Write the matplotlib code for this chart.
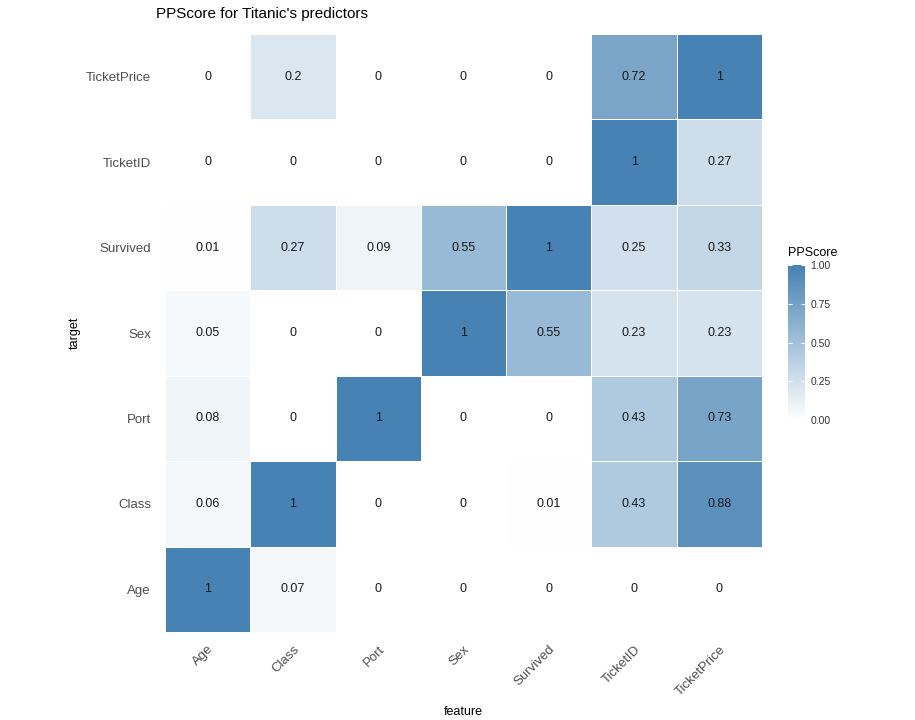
import numpy as np
import matplotlib
matplotlib.use("Agg")
import matplotlib.pyplot as plt
from matplotlib.colors import LinearSegmentedColormap

plt.rcParams['font.family'] = ['Liberation Sans', 'DejaVu Sans']

features = ["Age", "Class", "Port", "Sex", "Survived", "TicketID", "TicketPrice"]
targets = ["Age", "Class", "Port", "Sex", "Survived", "TicketID", "TicketPrice"]
# rows = target (bottom to top), cols = feature
scores = [
    [1.00, 0.07, 0.00, 0.00, 0.00, 0.00, 0.00],   # Age
    [0.06, 1.00, 0.00, 0.00, 0.01, 0.43, 0.88],   # Class
    [0.08, 0.00, 1.00, 0.00, 0.00, 0.43, 0.73],   # Port
    [0.05, 0.00, 0.00, 1.00, 0.55, 0.23, 0.23],   # Sex
    [0.01, 0.27, 0.09, 0.55, 1.00, 0.25, 0.33],   # Survived
    [0.00, 0.00, 0.00, 0.00, 0.00, 1.00, 0.27],   # TicketID
    [0.00, 0.20, 0.00, 0.00, 0.00, 0.72, 1.00],   # TicketPrice
]
labels = [
    ["1", "0.07", "0", "0", "0", "0", "0"],
    ["0.06", "1", "0", "0", "0.01", "0.43", "0.88"],
    ["0.08", "0", "1", "0", "0", "0.43", "0.73"],
    ["0.05", "0", "0", "1", "0.55", "0.23", "0.23"],
    ["0.01", "0.27", "0.09", "0.55", "1", "0.25", "0.33"],
    ["0", "0", "0", "0", "0", "1", "0.27"],
    ["0", "0.2", "0", "0", "0", "0.72", "1"],
]

Z = np.array(scores)
cmap = LinearSegmentedColormap.from_list("ws", ["#ffffff", "#4682b4"])

fig = plt.figure(figsize=(9.15, 7.2), dpi=100)
ax = fig.add_axes([0.1803, 0.1222, 0.6525, 0.8306])
mesh = ax.pcolormesh(np.arange(len(features) + 1) - 0.5,
                     np.arange(len(targets) + 1) - 0.5,
                     Z, cmap=cmap, vmin=0, vmax=1,
                     edgecolors="white", linewidth=0.4)
for i in range(len(targets)):
    for j in range(len(features)):
        ax.text(j, i, labels[i][j], ha="center", va="center",
                fontsize=9, color="#1a1a1a")
ax.set_xlim(-0.5, len(features) - 0.5)
ax.set_ylim(-0.5, len(targets) - 0.5)
ax.set_xticks(range(len(features)))
ax.set_xticklabels(features, rotation=45, ha="right", rotation_mode="anchor",
                   fontsize=9.5, color="#4d4d4d")
ax.set_yticks(range(len(targets)))
ax.set_yticklabels(targets, fontsize=9.5, color="#4d4d4d")
ax.tick_params(axis='y', length=0, pad=10)
ax.tick_params(axis='x', length=0, pad=8)
for s in ax.spines.values():
    s.set_visible(False)
ax.set_xlabel("feature", fontsize=9, labelpad=6)
ax.set_ylabel("target", fontsize=9, labelpad=4)
fig.text(0.171, 0.98, "PPScore for Titanic's predictors", fontsize=11, ha="left", va="center")

cax = fig.add_axes([0.861, 0.4167, 0.0186, 0.215])
cb = fig.colorbar(mesh, cax=cax, ticks=[0, 0.25, 0.5, 0.75, 1.0])
cb.outline.set_visible(False)
cb.ax.set_yticklabels(["0.00", "0.25", "0.50", "0.75", "1.00"], fontsize=7.5, color="#333333")
cb.ax.tick_params(length=3, color="white", direction="in", left=True, right=True, pad=4)
fig.text(0.861, 0.648, "PPScore", fontsize=9, ha="left", va="center")

fig.savefig("out.png", dpi=100)
